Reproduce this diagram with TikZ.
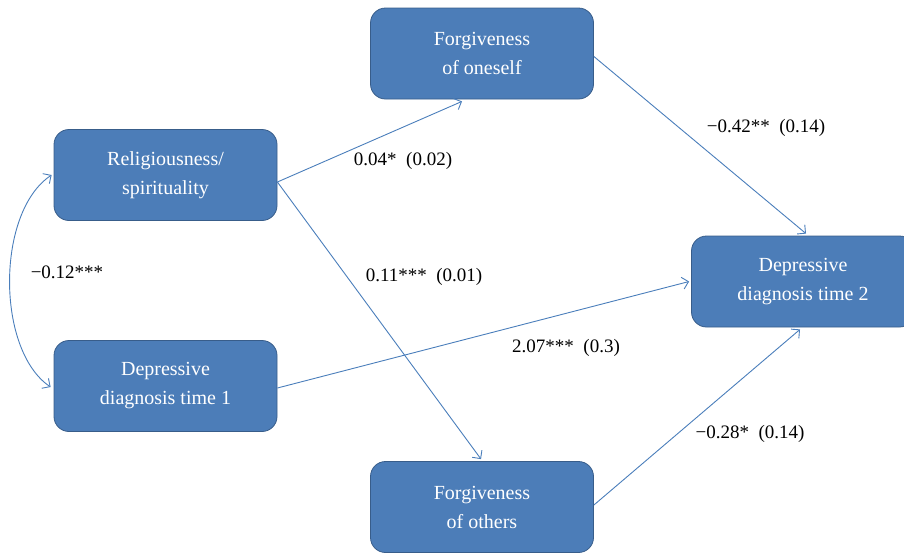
\documentclass[tikz,border=0pt]{standalone}
\usepackage{fontspec}
\setmainfont{Liberation Serif}
\usetikzlibrary{arrows.meta,calc}
\definecolor{boxfill}{RGB}{76,125,184}
\definecolor{boxline}{RGB}{56,93,138}
\definecolor{arrowc}{RGB}{74,126,187}
\tikzset{
  varbox/.style={rectangle, rounded corners=15pt, fill=boxfill, draw=boxline, line width=0.8pt,
    minimum width=223pt, minimum height=91pt, text=white, align=center,
    font=\fontsize{20}{29}\selectfont},
  path/.style={draw=arrowc, line width=0.9pt, -{Straight Barb[length=6pt,width=12pt]}},
  coef/.style={text=black, font=\fontsize{19}{22}\selectfont}
}
\begin{document}
\begin{tikzpicture}[x=1pt,y=-1pt]
\useasboundingbox (0,0) rectangle (904,555);
\clip (0,0) rectangle (904,555);
\node[varbox] (rel) at (165.5,175) {Religiousness/\\spirituality};
\node[varbox] (dep1) at (165.5,386) {Depressive\\diagnosis time 1};
\node[varbox] (self) at (482,53.5) {Forgiveness\\of oneself};
\node[varbox] (others) at (482,507) {Forgiveness\\of others};
\node[varbox] (dep2) at (803,281.5) {Depressive\\diagnosis time 2};

\coordinate (relout) at ($(rel.east)+(0,7)$);
\coordinate (selfin) at ($(self.south)+(-20,2)$);
\draw[path] (relout) -- (selfin);
\draw[path] (relout) -- ($(others.north)+(-1,-2)$);
\draw[path] ($(dep1.east)+(0,2)$) -- ($(dep2.west)+(-2,0)$);
\draw[path] ($(self.east)+(0,3)$) -- ($(dep2.north)+(3,-2)$);
\draw[path] ($(others.east)+(0,-2)$) -- ($(dep2.south)+(-3,2)$);
\draw[draw=arrowc, line width=0.9pt, {Straight Barb[length=6pt,width=12pt]}-{Straight Barb[length=6pt,width=12pt]}]
  ($(rel.west)+(-2,0)$) .. controls (-4,212) and (-4,350) .. ($(dep1.west)+(-3,1)$);

\node[coef] (c1) at (403,161) {0.04*\enspace(0.02)};
\node[coef] (c2) at (424,277) {0.11***\enspace(0.01)};
\node[coef] (c3) at (566,348) {2.07***\enspace(0.3)};
\node[coef] (c4) at (766,128) {−0.42**\enspace(0.14)};
\node[coef] (c5) at (750,434) {−0.28*\enspace(0.14)};
\node[coef] (c6) at (67,272) {−0.12***};
\end{tikzpicture}
\end{document}
